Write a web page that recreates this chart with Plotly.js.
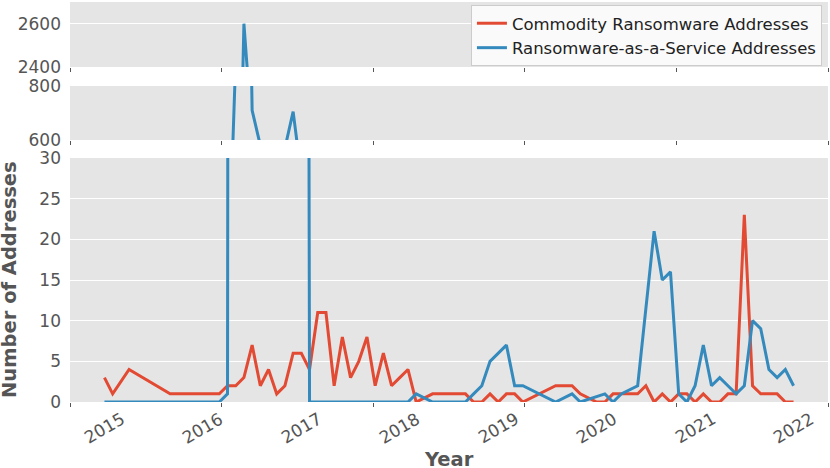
<!DOCTYPE html>
<html>
<head>
<meta charset="utf-8">
<script src="https://cdn.plot.ly/plotly-3.0.1.min.js"></script>
<style>
  body { margin: 0; background: #fff; }
  #chart { width: 830px; height: 468px; }
</style>
</head>
<body>
<div id="chart"></div>
<script>
// monthly address counts
const commodityDates = [
    '2015-01', '2015-02', '2015-04', '2015-09',
    '2016-03', '2016-04', '2016-05', '2016-06', '2016-07', '2016-08', '2016-09', '2016-10', '2016-11', '2016-12',
    '2017-01', '2017-02', '2017-03', '2017-04', '2017-05', '2017-06', '2017-07', '2017-08', '2017-09', '2017-10', '2017-11', '2017-12',
    '2018-01', '2018-02', '2018-03', '2018-05', '2018-06', '2018-07', '2018-08', '2018-09', '2018-10', '2018-11', '2018-12',
    '2019-01', '2019-02', '2019-03', '2019-04', '2019-06', '2019-08', '2019-09', '2019-10', '2019-11',
    '2020-01', '2020-02', '2020-03', '2020-04', '2020-05', '2020-06', '2020-07', '2020-08', '2020-09', '2020-10', '2020-11', '2020-12',
    '2021-01', '2021-02', '2021-03', '2021-04', '2021-05', '2021-06', '2021-07', '2021-08', '2021-09', '2021-10', '2021-11', '2021-12',
    '2022-01'
];
const commodityCounts = [
    3, 1, 4, 1,
    1, 2, 2, 3, 7, 2, 4, 1, 2, 6,
    6, 4, 11, 11, 2, 8, 3, 5, 8, 2, 6, 2,
    3, 4, 0, 1, 1, 1, 1, 1, 0, 0, 1,
    0, 1, 1, 0, 1, 2, 2, 2, 1,
    0, 0, 1, 1, 1, 1, 2, 0, 1, 0, 1, 1,
    0, 1, 0, 0, 1, 1, 23, 2, 1, 1, 1, 0,
    0
];

const raasDates = [
    '2015-01',
    '2016-03', '2016-04', '2016-05', '2016-06', '2016-07', '2016-08', '2016-09', '2016-10', '2016-11', '2016-12',
    '2017-01', '2017-02',
    '2018-02', '2018-03', '2018-05', '2018-09', '2018-10', '2018-11', '2018-12',
    '2019-01', '2019-02', '2019-03', '2019-04', '2019-08', '2019-10', '2019-11',
    '2020-02', '2020-03', '2020-04', '2020-06', '2020-08', '2020-09', '2020-10', '2020-11', '2020-12',
    '2021-01', '2021-02', '2021-03', '2021-04', '2021-05', '2021-06', '2021-07', '2021-08', '2021-09', '2021-10', '2021-11', '2021-12',
    '2022-01'
];
const raasCounts = [
    0,
    0, 1, 900, 2600, 710, 580, 560, 540, 570, 705,
    466, 0,
    0, 1, 0, 0, 1, 2, 5,
    6, 7, 2, 2, 0, 1, 0,
    1, 0, 1, 2, 21, 15, 16, 1, 0,
    2, 7, 2, 3, 2, 1, 2, 10, 9, 4, 3, 4,
    2
];

const yearLabels = ['2015', '2016', '2017', '2018', '2019', '2020', '2021', '2022'];
const yearDates = ['2015-01', '2016-01', '2017-01', '2018-01', '2019-01', '2020-01', '2021-01', '2022-01'];

const seriesNames = ['Commodity Ransomware Addresses', 'Ransomware-as-a-Service Addresses'];
const seriesColors = ['#E24A33', '#348ABD'];

// month number counted from Jan 2015
function monthIndex(d) {
    let parts = d.split('-');
    return (parseInt(parts[0]) - 2015) * 12 + parseInt(parts[1]) - 1;
}

const FONT = 'DejaVu Sans';
const xRange = [-4.2, 88.2];

// six evenly spaced tick marks across the axis, as in the figure
let xTicks = [];
for (let k = 0; k <= 5; k++) {
    xTicks.push(xRange[0] + k * (xRange[1] - xRange[0]) / 5);
}

let seriesX = [commodityDates.map(monthIndex), raasDates.map(monthIndex)];
let seriesY = [commodityCounts, raasCounts];

let data = [];
let axes = ['', '2', '3'];
for (let s = 0; s < 2; s++) {
    for (let a = 0; a < 3; a++) {
        data.push({
            x: seriesX[s],
            y: seriesY[s],
            xaxis: 'x' + axes[a],
            yaxis: 'y' + axes[a],
            type: 'scatter',
            mode: 'lines',
            name: seriesNames[s],
            showlegend: a === 0,
            line: {color: seriesColors[s], width: 3}
        });
    }
}

function xAxis(anchor) {
    return {
        range: xRange,
        anchor: anchor,
        tickmode: 'array',
        tickvals: xTicks,
        ticktext: xTicks.map(function () { return ''; }),
        ticks: 'outside',
        ticklen: 4,
        tickwidth: 1,
        tickcolor: '#555',
        showgrid: false,
        zeroline: false,
        showline: false
    };
}

function yAxis(domain, range, ticks) {
    return {
        domain: domain,
        range: range,
        tickmode: 'array',
        tickvals: ticks,
        gridcolor: '#ffffff',
        gridwidth: 1,
        zeroline: false,
        showline: false,
        ticks: '',
        ticklabelstandoff: 8,
        tickfont: {family: FONT, size: 17, color: '#555555'}
    };
}

let annotations = [];
for (let i = 0; i < yearLabels.length; i++) {
    annotations.push({
        x: monthIndex(yearDates[i]),
        xref: 'x',
        y: -0.066,
        yref: 'paper',
        text: yearLabels[i],
        textangle: -30,
        showarrow: false,
        xanchor: 'center',
        yanchor: 'middle',
        font: {family: FONT, size: 17, color: '#555555'}
    });
}
annotations.push({
    x: 0.5, xref: 'paper', y: -0.1425, yref: 'paper',
    text: 'Year', showarrow: false, xanchor: 'center', yanchor: 'middle',
    font: {family: FONT, size: 19.5, color: '#555555', weight: 'bold'}
});
annotations.push({
    x: -0.0805, xref: 'paper', y: 0.3075, yref: 'paper',
    text: 'Number of Addresses', textangle: -90, showarrow: false,
    xanchor: 'center', yanchor: 'middle',
    font: {family: FONT, size: 19.5, color: '#555555', weight: 'bold'}
});

let x2 = xAxis('y2');
x2.matches = 'x';
let x3 = xAxis('y3');
x3.matches = 'x';

let layout = {
    width: 830,
    height: 468,
    margin: {l: 70, r: 2, t: 2, b: 66},
    paper_bgcolor: '#ffffff',
    plot_bgcolor: '#E5E5E5',
    font: {family: FONT, color: '#555555'},
    xaxis: xAxis('y'),
    xaxis2: x2,
    xaxis3: x3,
    yaxis: yAxis([0, 0.61], [0, 30], [0, 5, 10, 15, 20, 25, 30]),
    yaxis2: yAxis([0.655, 0.79], [600, 800], [600, 800]),
    yaxis3: yAxis([0.8375, 1], [2400, 2700], [2400, 2600]),
    showlegend: true,
    legend: {
        x: 0.992, y: 0.9925,
        xanchor: 'right', yanchor: 'top',
        bgcolor: '#FAFAFA',
        bordercolor: '#CCCCCC',
        borderwidth: 1,
        tracegroupgap: 0,
        itemwidth: 30,
        font: {family: FONT, size: 16.5, color: '#222222'}
    },
    annotations: annotations
};

Plotly.newPlot('chart', data, layout, {staticPlot: true});
</script>
</body>
</html>
